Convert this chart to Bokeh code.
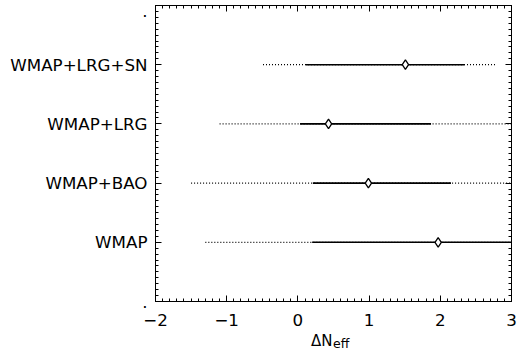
import numpy as np
from bokeh.plotting import figure
from bokeh.layouts import column
from bokeh.models import FixedTicker, LinearAxis, Label, Range1d, ColumnDataSource
from bokeh.embed import file_html
from bokeh.resources import INLINE

# ---- data ----
datasets = ["WMAP", "WMAP+BAO", "WMAP+LRG", "WMAP+LRG+SN"]
ypos = [1, 2, 3, 4]
best = [1.97, 0.99, 0.43, 1.51]
lo1 = [0.20, 0.21, 0.03, 0.11]
hi1 = [3.40, 2.15, 1.87, 2.34]
lo2 = [-1.30, -1.50, -1.10, -0.49]
hi2 = [4.50, 3.60, 3.30, 2.79]
x_ticks = [-2, -1, 0, 1, 2, 3]
x_tick_labels = ["\u22122", "\u22121", "0", "1", "2", "3"]
y_ticks = [0, 1, 2, 3, 4, 5]
y_tick_labels = ["."] + datasets + ["."]
x_title = "\u0394N"
x_title_sub = "eff"

FONT = "DejaVu Sans"
FS = "16.7px"

src = ColumnDataSource(dict(y=ypos, best=best, lo1=lo1, hi1=hi1, lo2=lo2, hi2=hi2))

p = figure(width=517, height=333, output_backend="svg", toolbar_location=None,
           x_range=Range1d(-2, 3), y_range=Range1d(0, 5),
           min_border_left=155, min_border_right=6, min_border_top=5, min_border_bottom=32,
           x_axis_location=None, y_axis_location=None)
p.background_fill_color = "white"
p.border_fill_color = "white"
p.outline_line_color = "black"
p.outline_line_width = 1
p.grid.visible = False

xt = FixedTicker(ticks=x_ticks, minor_ticks=list(np.round(np.arange(-2, 3.001, 0.1), 3)))
yt = FixedTicker(ticks=y_ticks, minor_ticks=list(np.round(np.arange(0, 5.001, 0.1), 3)))


def style(ax, labels):
    ax.axis_line_color = "black"
    ax.axis_line_width = 1
    ax.major_tick_in = 6
    ax.major_tick_out = 0
    ax.minor_tick_in = 3
    ax.minor_tick_out = 0
    ax.major_tick_line_color = "black"
    ax.minor_tick_line_color = "black"
    if labels:
        ax.major_label_text_font = FONT
        ax.major_label_text_font_size = FS
        ax.major_label_text_color = "black"
    else:
        ax.major_label_text_font_size = "0px"
        ax.major_label_text_color = None
        ax.major_label_standoff = 0


bottom = LinearAxis(ticker=xt, major_label_overrides=dict(zip(x_ticks, x_tick_labels)))
style(bottom, True)
bottom.major_label_standoff = 12
top = LinearAxis(ticker=xt)
style(top, False)
left = LinearAxis(ticker=yt, major_label_overrides=dict(zip(y_ticks, y_tick_labels)))
style(left, True)
left.major_label_standoff = 8
right = LinearAxis(ticker=yt)
style(right, False)
p.add_layout(bottom, "below")
p.add_layout(top, "above")
p.add_layout(left, "left")
p.add_layout(right, "right")

# 2-sigma (dotted) then 1-sigma (solid)
p.segment(x0="lo2", y0="y", x1="hi2", y1="y", source=src, line_color="black",
          line_width=1.3, line_dash="1 2")
p.segment(x0="lo1", y0="y", x1="hi1", y1="y", source=src, line_color="black",
          line_width=1.6)
p.scatter(x="best", y="y", source=src, marker="diamond", size=9.5,
          fill_color="white", line_color="black", line_width=1.3)

# strip below the plot that carries the x-axis title  ΔN_eff
p2 = figure(width=517, height=27, output_backend="svg", toolbar_location=None,
            min_border=0, x_axis_location=None, y_axis_location=None)
p2.outline_line_color = None
p2.grid.visible = False
p2.background_fill_color = "white"
p2.border_fill_color = "white"
p2.add_layout(Label(x=177, y=20, x_units="screen", y_units="screen", text=x_title,
                    text_align="right", text_baseline="alphabetic",
                    text_font=FONT, text_font_size="15px", text_color="black"))
p2.add_layout(Label(x=177.5, y=17, x_units="screen", y_units="screen", text=x_title_sub,
                    text_align="left", text_baseline="alphabetic",
                    text_font=FONT, text_font_size="12.5px", text_color="black"))

layout = column(p, p2, spacing=0)
open("out.html", "w").write(file_html(layout, INLINE))
